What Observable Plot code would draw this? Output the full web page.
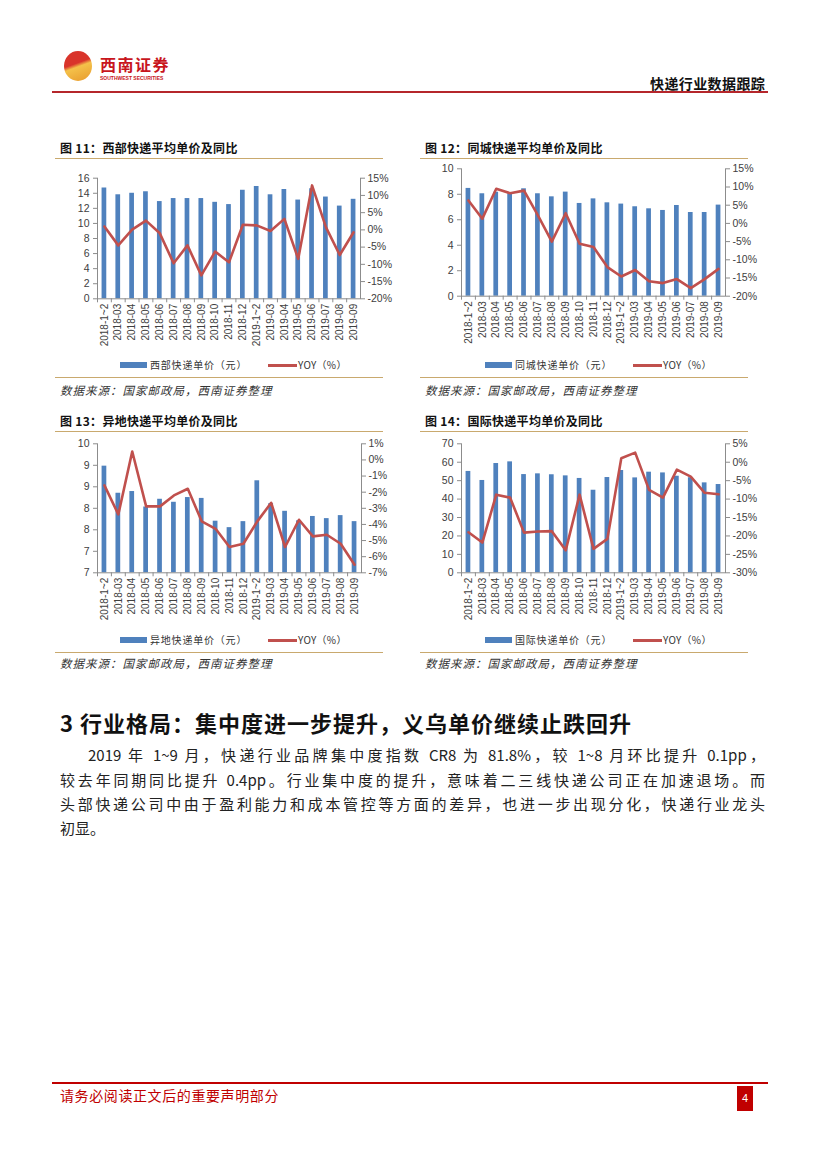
<!DOCTYPE html>
<html><head><meta charset="utf-8">
<script src="https://cdn.jsdelivr.net/npm/d3@7"></script>
<script src="https://cdn.jsdelivr.net/npm/@observablehq/plot@0.6"></script>
<style>
body{margin:0;background:#fff;}
#page{position:relative;width:827px;height:1169px;overflow:hidden;font-family:"Noto Sans CJK SC","Noto Sans",sans-serif;color:#222;}
.abs{position:absolute;white-space:nowrap;}
.title{font-size:12px;font-weight:700;color:#111;line-height:14px;letter-spacing:0.3px;}
.tan{height:0;border-top:1.5px solid #c9a96e;}
.src{font-size:11.5px;font-style:italic;color:#333;letter-spacing:1px;line-height:14px;}
.leg{font-size:10px;color:#333;letter-spacing:0.8px;line-height:12px;}
.chart{position:absolute;overflow:visible;}
.chart svg{position:absolute;left:0;top:0;}
.para{font-size:15px;line-height:24px;color:#222;text-align:justify;text-align-last:justify;}
</style></head>
<body><div id="page"></div>
<script>
// ---------- data ----------
const categories = ["2018-1~2","2018-03","2018-04","2018-05","2018-06","2018-07","2018-08","2018-09","2018-10","2018-11","2018-12","2019-1~2","2019-03","2019-04","2019-05","2019-06","2019-07","2019-08","2019-09"];

const westPrice = [14.7,13.8,14.0,14.2,12.9,13.3,13.3,13.3,12.8,12.5,14.4,14.9,13.8,14.5,13.1,14.6,13.5,12.3,13.2];
const westYoy   = [1.0,-4.5,0.1,2.7,-1.0,-9.7,-4.5,-13.2,-6.3,-9.4,1.5,1.3,-0.3,3.2,-8.4,12.9,0.8,-7.3,-0.7];

const cityPrice = [8.46,8.04,8.16,8.05,8.43,8.04,7.80,8.17,7.28,7.64,7.33,7.23,7.02,6.86,6.73,7.12,6.57,6.57,7.15];
const cityYoy   = [6.3,1.3,9.5,8.3,9.0,2.2,-5.0,2.8,-5.6,-6.5,-12.0,-14.6,-12.8,-15.9,-16.4,-15.3,-17.8,-15.3,-12.5];

const interPrice = [9.48,8.85,8.89,8.53,8.71,8.64,8.75,8.73,8.20,8.05,8.19,9.14,8.61,8.43,8.21,8.31,8.26,8.33,8.19];
const interYoy   = [-1.58,-3.38,0.52,-2.88,-2.88,-2.2,-1.79,-3.81,-4.27,-5.4,-5.2,-3.81,-2.66,-5.4,-3.71,-4.74,-4.64,-5.2,-6.5];

const intlPrice = [55.0,50.1,59.3,60.2,53.3,53.7,53.2,52.6,51.2,44.8,51.7,55.5,51.5,54.6,54.2,52.4,51.6,48.8,47.9];
const intlYoy   = [-19.0,-21.8,-8.8,-9.6,-19.1,-18.8,-18.7,-23.9,-8.8,-23.5,-20.8,1.1,2.6,-7.5,-9.6,-2.0,-3.9,-8.3,-8.7];

const westTicks = [0,2,4,6,8,10,12,14,16];
const westRTicks = [-20,-15,-10,-5,0,5,10,15];
const cityTicks = [0,2,4,6,8,10];
const cityRTicks = [-20,-15,-10,-5,0,5,10,15];
const interTicks = [7,7.5,8,8.5,9,9.5,10];
const interTickLabels = ["7","7","8","8","9","9","10"];
const interRTicks = [-7,-6,-5,-4,-3,-2,-1,0,1];
const intlTicks = [0,10,20,30,40,50,60,70];
const intlRTicks = [-30,-25,-20,-15,-10,-5,0,5];

const titles = ["图 11：西部快递平均单价及同比","图 12：同城快递平均单价及同比","图 13：异地快递平均单价及同比","图 14：国际快递平均单价及同比"];
const barNames = ["西部快递单价（元）","同城快递单价（元）","异地快递单价（元）","国际快递单价（元）"];
const lineName = "YOY（%）";
const sourceText = "数据来源：国家邮政局，西南证券整理";

const page = document.getElementById("page");
function el(cls, style, text){
  const d = document.createElement("div");
  d.className = cls; d.setAttribute("style", style);
  if (text != null) d.textContent = text;
  page.appendChild(d); return d;
}

const BLUE = "#4F81BD", RED = "#C0504D", AXIS = "#8c8c8c";

function drawChart(cfg){
  const n = cfg.cats.length;
  const base = cfg.yDomain[0];
  const rows = cfg.cats.map((c,i)=>({cat:c, price:cfg.price[i], yoy:cfg.yoy[i], base:base}));
  const step = (cfg.W - cfg.ml - cfg.mr) / n;
  const common = {width:cfg.W, height:cfg.H, marginLeft:cfg.ml, marginRight:cfg.mr, marginTop:cfg.mt, marginBottom:cfg.mb,
    style:{background:"transparent", fontFamily:"'Liberation Sans', Arial, sans-serif", fontSize:"10.5px", color:"#404040", overflow:"visible"}};
  const fmtL = cfg.yLabels ? (d => cfg.yLabels[cfg.yTicks.indexOf(d)]) : (d => String(d));
  const bars = Plot.plot({...common,
    x:{type:"band", domain:cfg.cats, paddingInner:0.66, paddingOuter:0.33, round:false, axis:null},
    y:{domain:cfg.yDomain, axis:null},
    marks:[
      Plot.barY(rows, {x:"cat", y1:"base", y2:"price", fill:BLUE}),
      Plot.ruleY([base], {stroke:AXIS}),
      Plot.frame({anchor:"left", stroke:AXIS}),
      Plot.axisY({ticks:cfg.yTicks, tickFormat:fmtL, tickSize:4, tickPadding:4, label:null, stroke:AXIS}),
      Plot.axisX({tickRotate:-90, tickSize:0, tickPadding:5, label:null, fontSize:10}),
      Plot.axisX({tickSize:4, tickFormat:()=>"", dx:-step/2, label:null, stroke:AXIS})
    ]});
  const line = Plot.plot({...common,
    x:{type:"point", domain:cfg.cats, padding:0.5, round:false, axis:null},
    y:{domain:cfg.rDomain, axis:null},
    marks:[
      Plot.frame({anchor:"right", stroke:AXIS}),
      Plot.axisY({anchor:"right", ticks:cfg.rTicks, tickFormat:d => d + "%", tickSize:4, tickPadding:3, label:null, stroke:AXIS}),
      Plot.line(rows, {x:"cat", y:"yoy", stroke:RED, strokeWidth:2.6, strokeLinejoin:"round"})
    ]});
  const box = document.createElement("div");
  box.className = "chart";
  box.setAttribute("style", `left:${cfg.L}px;top:${cfg.T}px;width:${cfg.W}px;height:${cfg.H}px;`);
  box.appendChild(bars); box.appendChild(line);
  page.appendChild(box);
}

function panel(px, titleY, legY, srcY, idx){
  el("abs title", `left:${px+5}px;top:${titleY-7}px;`, titles[idx]);
  el("abs tan", `left:${px}px;top:${titleY+10}px;width:328px;`);
  el("abs", `left:${px+65}px;top:${legY-3}px;width:27px;height:6px;background:${BLUE};`);
  el("abs leg", `left:${px+95}px;top:${legY-6}px;`, barNames[idx]);
  el("abs", `left:${px+213}px;top:${legY-1.5}px;width:29px;height:3px;background:${RED};`);
  el("abs leg", `left:${px+243}px;top:${legY-6}px;letter-spacing:0.3px;`, lineName);
  el("abs tan", `left:${px}px;top:${legY+12}px;width:328px;`);
  el("abs src", `left:${px+5}px;top:${srcY-7}px;`, sourceText);
}

panel(55, 148, 365, 390, 0);
panel(420, 148, 365, 390, 1);
panel(55, 421, 640, 663, 2);
panel(420, 421, 640, 663, 3);

drawChart({L:55, T:165, W:330, H:185, ml:42, mr:25, mt:12.7, mb:51.7, cats:categories, price:westPrice, yoy:westYoy,
  yDomain:[0,16], yTicks:westTicks, rDomain:[-20,15], rTicks:westRTicks});
drawChart({L:420, T:155, W:330, H:190, ml:41, mr:25, mt:13.3, mb:49.3, cats:categories, price:cityPrice, yoy:cityYoy,
  yDomain:[0,10], yTicks:cityTicks, rDomain:[-20,15], rTicks:cityRTicks});
drawChart({L:55, T:430, W:330, H:195, ml:42, mr:24, mt:13.3, mb:52.7, cats:categories, price:interPrice, yoy:interYoy,
  yDomain:[7,10], yTicks:interTicks, yLabels:interTickLabels, rDomain:[-7,1], rTicks:interRTicks});
drawChart({L:420, T:430, W:330, H:195, ml:41, mr:25, mt:13.3, mb:52.7, cats:categories, price:intlPrice, yoy:intlYoy,
  yDomain:[0,70], yTicks:intlTicks, rDomain:[-30,5], rTicks:intlRTicks});

// ---------- header ----------
el("abs", "left:64px;top:51px;width:28px;height:30px;border-radius:50%;background:linear-gradient(160deg,#d9342b 0%,#d9342b 42%,#f4c14a 52%,#e89a2c 100%);");
el("abs", "left:100px;top:54px;font-size:16px;font-weight:700;color:#c8161d;letter-spacing:1.5px;line-height:20px;", "西南证券");
el("abs", "left:100px;top:75px;font-size:5px;font-weight:700;color:#c8161d;line-height:6px;font-family:'Liberation Sans',Arial;", "SOUTHWEST SECURITIES");
el("abs", "left:650px;top:74px;font-size:14px;font-weight:700;color:#111;line-height:18px;letter-spacing:0.4px;", "快递行业数据跟踪");
el("abs", "left:52px;top:91px;width:716px;height:2px;background:#b5262b;");

// ---------- section ----------
el("abs", "left:60px;top:708px;font-size:22px;font-weight:700;color:#111;line-height:28px;letter-spacing:1px;", "3 行业格局：集中度进一步提升，义乌单价继续止跌回升");
el("abs para", "left:88px;top:743px;width:677px;", "2019 年 1~9 月，快递行业品牌集中度指数 CR8 为 81.8%，较 1~8 月环比提升 0.1pp，");
el("abs para", "left:60px;top:768px;width:705px;", "较去年同期同比提升 0.4pp。行业集中度的提升，意味着二三线快递公司正在加速退场。而");
el("abs para", "left:60px;top:792px;width:705px;", "头部快递公司中由于盈利能力和成本管控等方面的差异，也进一步出现分化，快递行业龙头");
el("abs", "left:60px;top:816px;font-size:15px;line-height:24px;color:#222;", "初显。");

// ---------- footer ----------
el("abs", "left:52px;top:1082px;width:716px;height:1.5px;background:#c00000;");
el("abs", "left:60px;top:1086px;font-size:14px;color:#c00000;line-height:18px;letter-spacing:0.6px;", "请务必阅读正文后的重要声明部分");
el("abs", "left:737px;top:1086px;width:16px;height:25px;background:#c00000;color:#fff;font-size:11px;line-height:25px;text-align:center;font-family:'Liberation Sans',Arial;", "4");
</script>
</body></html>
